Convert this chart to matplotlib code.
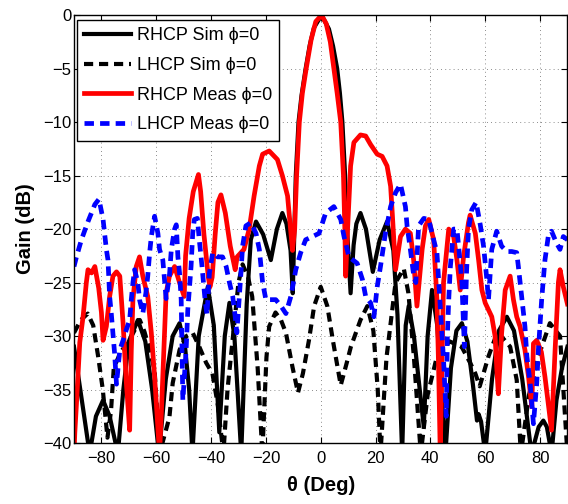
import matplotlib
matplotlib.use("Agg")
import matplotlib.pyplot as plt

plt.rcParams["font.family"] = ["Liberation Sans", "DejaVu Sans"]

# RHCP simulated, phi = 0
rhcp_sim_theta = [-90, -88, -86, -84.3, -82, -79.4, -77, -74, -72, -70, -66.7, -64, -61.5, -59,
                  -56.5, -54, -51.5, -49.5, -48, -46.8, -44.5, -41.2, -39, -37, -35, -33.3,
                  -31.5, -29, -27, -25.5, -23.6, -21, -18.2, -16, -14, -12.5, -11, -10.2, -9.6,
                  -9.1, -8.1, -7, -5.5, -4, -2.5, 0.3, 3, 4.5, 6, 7, 7.9, 8.9, 9.6, 10.9, 12,
                  13, 14.5, 16.5, 19, 21.5, 24.2, 26.5, 28, 29.7, 31, 32.1, 34, 37.6, 39, 40.6,
                  42.5, 44, 45.5, 47.5, 49.5, 51.5, 53.5, 55.5, 57, 57.6, 58.5, 60, 62.5, 65,
                  67.9, 70.5, 73.5, 76.9, 79.5, 81.2, 82.5, 84.2, 86, 88, 90]
rhcp_sim_gain = [-31, -34.5, -38, -41, -37.5, -36, -37.5, -41, -35, -30.5, -28.5, -30.5, -35, -41,
                 -34, -30, -28.8, -31, -35, -41, -30, -25.4, -29, -39, -30, -26.9,
                 -30, -41, -27, -21, -19.3, -20.5, -22.9, -20, -18.5, -19.5, -22, -26, -20,
                 -15, -10, -7.5, -5, -2.8, -1.2, 0, -1.3, -2.9, -5, -7.3, -10, -15, -20, -26, -21.5,
                 -19.5, -18.5, -20, -24, -21, -19.3, -22, -28, -41, -29, -27.2, -30, -38.5, -30, -25.7,
                 -29, -35, -41, -33, -29.5, -28.8, -30.5, -34.5, -37.9, -37.3, -38, -41, -34, -29.5,
                 -28.2, -29.5, -34, -41, -38.5, -37.9, -38.5, -41, -36, -33, -31]

# LHCP simulated, phi = 0
lhcp_sim_theta = [-90, -87.5, -85, -83, -81.2, -79.5, -77.8, -76.5, -75.5, -73, -70, -66, -64.3,
                  -62.4, -60.6, -60, -58.8, -55.2, -54, -51.5, -49, -46.7, -44.3, -41.8, -39.5,
                  -37.5, -35.5, -34, -32, -30, -28.5, -26.5, -25, -23, -21.3, -19.8, -18.8, -16.5,
                  -14.5, -12.7, -10.3, -8.3, -6.5, -4.3, -2.4, 0, 2.4, 4.5, 7.3, 9.5, 11, 14.5,
                  17, 19.2, 20.8, 21.8, 23, 24, 27.3, 30.3, 32, 34, 36.5, 39, 42.4, 47, 51.4,
                  54.5, 56.4, 58, 61.2, 64.5, 69.1, 71.5, 73, 76, 79.4, 83.6, 87.3, 89, 90]
lhcp_sim_gain = [-29.7, -28.5, -27.9, -29, -31.9, -35, -39.5, -37, -33, -31.5, -30.5, -28.5, -29.6,
                 -31.3, -33.2, -35.7, -41, -37.6, -34.4, -31.3, -30, -29.7, -31, -32.5, -33.5,
                 -36.5, -41, -35, -30, -25, -23.3, -24.5, -26.3, -33, -41, -32, -29.1, -27.8,
                 -28.5, -29.7, -32.9, -35.3, -33.5, -30.4, -27.2, -25.4, -27.2, -30.5, -34.6, -32.5, -31, -28.5,
                 -27.2, -29.5, -35, -41, -36, -32, -25, -23.7, -26, -32, -41, -35.5, -31.9, -30.5, -31,
                 -32.5, -33.5, -34.7, -31.9, -29.6, -31, -34.1, -41, -35.5, -31.9, -28.8, -30, -37, -41]

# RHCP measured, phi = 0
rhcp_meas_theta = [-90, -89.7, -89.1, -87.9, -86.7, -85.5, -84.9, -83.6, -82.4, -81, -80, -79.4,
                   -78.2, -77, -75.8, -74.5, -73.3, -72.1, -70.9, -69.7, -69.1, -68.5, -67.3,
                   -66.1, -64.9, -63.1, -61.8, -60.6, -58.8, -58.2, -57, -56.4, -55.2, -53.3,
                   -51.5, -49.8, -49.3, -48, -46.5, -44.6, -43.8, -42.6, -41, -40.4, -39.6,
                   -38.5, -37.5, -36.4, -34.8, -33, -31.2, -30.5, -28, -26.1, -24.3, -22.4,
                   -21.2, -18.8, -15.8, -14, -12.1, -10.3, -9.5, -8.8, -7.8, -6.7, -5.3, -3.5,
                   -1.8, 0.3, 2, 3.5, 4.8, 6, 7.3, 8.3, 8.8, 9.1, 9.8, 10.9, 12.1, 14.5, 16.4,
                   18.2, 20.6, 22.4, 24.2, 25.5, 26.1, 27.3, 29.1, 30.9, 32.7, 33.9, 35.1, 37,
                   38.2, 39.4, 41.2, 42.4, 43, 43.6, 44.8, 46.7, 48.5, 49.7, 50.9, 52.1, 53.9,
                   54.5, 56.4, 57.6, 58.8, 60, 62.4, 63.6, 64.2, 64.8, 66, 67.3, 69.1, 70.3,
                   71.5, 72.7, 74.5, 75.8, 77, 77.6, 78.8, 80.5, 81.8, 83.6, 84.2, 85.5, 86.7,
                   87.3, 88.5, 90]
rhcp_meas_gain = [-41, -39, -36.3, -30.6, -28.2, -25, -23.8, -24.1, -23.5, -25.5, -27.8, -30.4,
                  -29.1, -26.3, -24.4, -24, -24.4, -28.8, -34.4, -38.8, -31.3, -26.6, -23.5,
                  -22.6, -24.4, -26.3, -29.7, -33.8, -41, -37.6, -30, -26, -24.4, -23.5,
                  -25, -26.3, -22.5, -19, -16.5, -14.9, -16.5, -20.5, -24.5, -25.4, -24.5,
                  -20.5, -17.5, -16.8, -18.5, -21.6, -23.8, -22.6, -21.9, -20, -16.9, -14.1,
                  -13, -12.7, -13.5, -15, -16.9, -22, -20, -15, -10, -7.3, -5, -2.3,
                  -0.6, 0, -0.8, -2.5, -5, -7.3, -10, -15, -20, -24.4, -20, -14.1, -11.9, -11.2, -11.3,
                  -12.1, -13, -13.2, -14.1, -16, -18.5, -23.8, -20.7, -20, -20.4, -22.9, -27.2, -21.9,
                  -19.7, -19.1, -21, -26.6, -32.9, -41, -25, -20, -20.7, -22.9, -25.7, -22.6, -19.4,
                  -18.7, -20.4, -22.9, -25.7, -26.9, -28.2, -30, -32.9, -35.4, -29.7, -25.7, -24.4, -26.6,
                  -28.2, -29.1, -31.3, -33.8, -36.6, -30.7, -30.4, -31.5, -33.8, -37.6, -38.8, -31.3, -25,
                  -23.8, -25.4, -27]

# LHCP measured, phi = 0
lhcp_meas_theta = [-90, -89.1, -87.3, -84.9, -82.4, -80.9, -79.4, -78.2, -77.6, -77, -76.4, -75.8,
                   -75.2, -74.5, -73.3, -72.1, -70.9, -69.7, -69.1, -68.5, -67.9, -66.7, -66.1,
                   -64.9, -63.8, -63.1, -62.4, -61.8, -60.6, -59.4, -58.8, -57.6, -56.4, -55.2,
                   -54.5, -53.3, -52.7, -52.1, -51.5, -50.9, -50.3, -49.1, -48.5, -47.3, -46.7,
                   -46.1, -45, -44.3, -43.3, -42.2, -41.5, -40.6, -39.4, -37.6, -35.8, -34.5,
                   -33.3, -32.1, -31.2, -30.6, -29.1, -28.5, -27.3, -25.5, -23.6, -22.4, -21.8,
                   -21.2, -20, -18.2, -16.4, -14.5, -12.7, -10.9, -9.1, -7.3, -5.5, -3, -0.6,
                   1.8, 4.8, 7.3, 8.5, 10.3, 13.3, 15.2, 16.4, 18.2, 19.4, 20.6, 21.8, 23.6,
                   25.5, 27.3, 29.1, 30.9, 31.5, 32.7, 34, 34.7, 35.7, 37.6, 39.4, 41.2, 42.4,
                   43.6, 44.8, 45.5, 45.8, 46.2, 46.7, 47.3, 48.5, 49.7, 50.3, 50.9, 51.5, 52.1,
                   52.4, 53.2, 53.9, 55.1, 56.7, 58.2, 59.4, 60.6, 61.2, 62.4, 64.2, 66, 67.9,
                   69.7, 71.5, 72.1, 73.3, 74.5, 75.2, 76.4, 77, 77.6, 78.8, 79.4, 80.6, 81.8,
                   83, 84.2, 86, 87.3, 88.5, 90]
lhcp_meas_gain = [-23.5, -22.6, -21, -19.3, -17.7, -17.2, -19.1, -21.9, -22.9, -26.3, -27.9, -29.7,
                  -31.6, -34.5, -31.3, -30.4, -29.4, -28.5, -26.6, -25, -23.8, -25, -26.6,
                  -27.9, -26, -24.4, -22.2, -20.7, -18.8, -20.4, -21.9, -22.9, -26.5, -24.4,
                  -21.9, -20, -19.6, -22.6, -24.1, -26.6, -36, -31.3, -27.6, -23.5, -20.4,
                  -19.1, -19, -21, -23.5, -26.6, -28, -24.1, -22.2, -22.6, -22.6, -23.5,
                  -25, -26.3, -28.2, -29.7, -24.1, -21.6, -19.7, -19.4, -20.4, -21.9, -23.5,
                  -25, -26.6, -26.6, -26.6, -27.2, -27.9, -26.3, -23.8, -22.2, -21, -20.7, -20.4,
                  -18.5, -17.9, -19.1, -20.7, -22.6, -23.2, -24.7, -26.3, -26.9, -28.2, -25.4, -23.5, -20.4,
                  -17.9, -16.6, -15.8, -17.9, -19.7, -21.9, -24.5, -25, -19.7, -19, -19.1, -21, -22.2,
                  -27.2, -32.2, -36, -37.5, -30, -26.6, -23.5, -20, -20, -21.6, -23.2, -25, -29.1,
                  -31, -24, -20, -18.2, -17.5, -19.6, -21.6, -24.7, -26.6, -21.9, -20.2, -21.6, -22.1,
                  -22.1, -22.2, -23.5, -26.3, -29.1, -31.9, -34.4, -36.3, -38.2, -34.4, -31.3, -26.6, -22.9,
                  -20.7, -20.2, -21.3, -21.9, -20.7, -21]

x_ticks = [-80, -60, -40, -20, 0, 20, 40, 60, 80]
y_ticks = [0, -5, -10, -15, -20, -25, -30, -35, -40]

fig = plt.figure(figsize=(5.68, 5.04), dpi=100)
ax = fig.add_axes([0.1303, 0.121, 0.8687, 0.849])

ax.plot(rhcp_sim_theta, rhcp_sim_gain, color="black", lw=3.0, label="RHCP Sim \u03d5=0")
ax.plot(lhcp_sim_theta, lhcp_sim_gain, color="black", lw=3.0, dashes=(2.2, 1.4),
        label="LHCP Sim \u03d5=0")
ax.plot(rhcp_meas_theta, rhcp_meas_gain, color="#ff0000", lw=3.4, label="RHCP Meas \u03d5=0")
ax.plot(lhcp_meas_theta, lhcp_meas_gain, color="#0000ff", lw=3.4, dashes=(2.0, 1.3),
        label="LHCP Meas \u03d5=0")

ax.set_xlim(-90, 90)
ax.set_ylim(-40, 0)
ax.set_xticks(x_ticks)
ax.set_yticks(y_ticks)
ax.tick_params(direction="in", top=True, right=True, labelsize=12, length=4)
ax.tick_params(axis="x", pad=6)
ax.tick_params(axis="y", pad=2)
ax.grid(True, color="#666666", linestyle=(0, (1, 4)), linewidth=0.6)
for sp in ax.spines.values():
    sp.set_linewidth(1.0)

ax.set_xlabel("\u03b8 (Deg)", fontsize=14.5, fontweight="bold", labelpad=7)
ax.set_ylabel("Gain (dB)", fontsize=14.5, fontweight="bold", labelpad=6)

leg = ax.legend(loc="upper left", bbox_to_anchor=(0.006, 0.988), borderaxespad=0,
                fontsize=13, handlelength=2.6, handletextpad=0.3, labelspacing=0.7,
                borderpad=0.4, fancybox=False, framealpha=1, edgecolor="black")
leg.get_frame().set_linewidth(1.0)

fig.savefig("out.png", dpi=100)
